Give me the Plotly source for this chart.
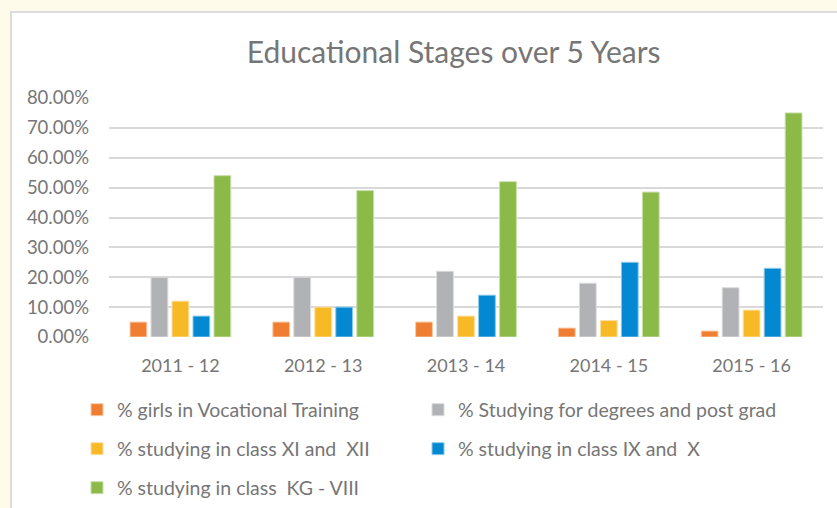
import plotly.graph_objects as go

categories = ["2011 - 12", "2012 - 13", "2013 - 14", "2014 - 15", "2015 - 16"]
series_names = [
    "% girls in Vocational Training",
    "% Studying for degrees and post grad",
    "% studying in class XI and  XII",
    "% studying in class IX and  X",
    "% studying in class  KG - VIII",
]
vocational = [0.05, 0.05, 0.05, 0.03, 0.02]
degrees = [0.20, 0.20, 0.22, 0.18, 0.165]
class_xi_xii = [0.12, 0.10, 0.07, 0.055, 0.09]
class_ix_x = [0.07, 0.10, 0.14, 0.25, 0.23]
class_kg_viii = [0.54, 0.49, 0.52, 0.485, 0.75]
y_ticks = [0, 0.1, 0.2, 0.3, 0.4, 0.5, 0.6, 0.7, 0.8]

series_values = [vocational, degrees, class_xi_xii, class_ix_x, class_kg_viii]
colors = ["#F07E32", "#B1B2B5", "#F8B927", "#0388D1", "#8CBA49"]
edge = ["#F9C9A6", "#DADBDC", "#FCDFA0", "#8CCBEB", "#C9DEAA"]

W, H = 837, 508
ML, MR, MT, MB = 109, 14, 98, 171
FONT = "Lato"
TXT = "#767676"

fig = go.Figure()
legend_pos = [(77, 410), (418, 410), (77, 449), (418, 449), (77, 488)]
for i, (name, vals) in enumerate(zip(series_names, series_values)):
    lname = "legend" if i == 0 else f"legend{i+1}"
    fig.add_trace(go.Bar(
        x=categories, y=vals, name=name, showlegend=True,
        marker=dict(color=colors[i], line=dict(color=edge[i], width=1)),
        legend=lname,
    ))

legends = {}
for i, (px, py) in enumerate(legend_pos):
    lname = "legend" if i == 0 else f"legend{i+1}"
    legends[lname] = dict(
        x=px / W, y=1 - py / H, xref="container", yref="container",
        xanchor="left", yanchor="middle", bgcolor="rgba(0,0,0,0)",
        font=dict(family=FONT, size=19.5, color=TXT), visible=True,
    )

pw = W - ML - MR
ph = H - MT - MB
fig.add_shape(type="rect", xref="paper", yref="paper",
              x0=(11 - ML) / pw, x1=(W + 5 - ML) / pw,
              y0=(H - MB - (H + 5)) / ph, y1=(H - MB - 12) / ph,
              fillcolor="white", line=dict(color="#DCDCDC", width=2), layer="below")

fig.update_layout(
    width=W, height=H, showlegend=True,
    margin=dict(l=ML, r=MR, t=MT, b=MB, autoexpand=False),
    paper_bgcolor="#FFFBEA", plot_bgcolor="white",
    barmode="group", bargap=0.265, bargroupgap=0.2,
    title=dict(text="Educational Stages over 5 Years", x=0.542, xref="container", xanchor="center",
               y=1 - 52 / H, yanchor="middle", yref="container",
               font=dict(family=FONT, size=30, color=TXT)),
    font=dict(family=FONT, color=TXT),
    **legends,
)
fig.update_yaxes(range=[0, 0.8], tickvals=y_ticks, tickformat=".2%",
                 showgrid=True, gridcolor="#D9D9D9", gridwidth=1.5,
                 zeroline=False, showline=False, ticks="", automargin=False,
                 tickfont=dict(family=FONT, size=18.5, color=TXT), ticklabelstandoff=19)
fig.update_xaxes(showgrid=False, showline=False, ticks="", automargin=False, tickangle=0,
                 tickfont=dict(family=FONT, size=18, color=TXT), ticklabelstandoff=16)

fig.write_html("out.html", config={"displayModeBar": False},
               post_script="document.body.style.margin='0';document.body.style.overflow='hidden';")
